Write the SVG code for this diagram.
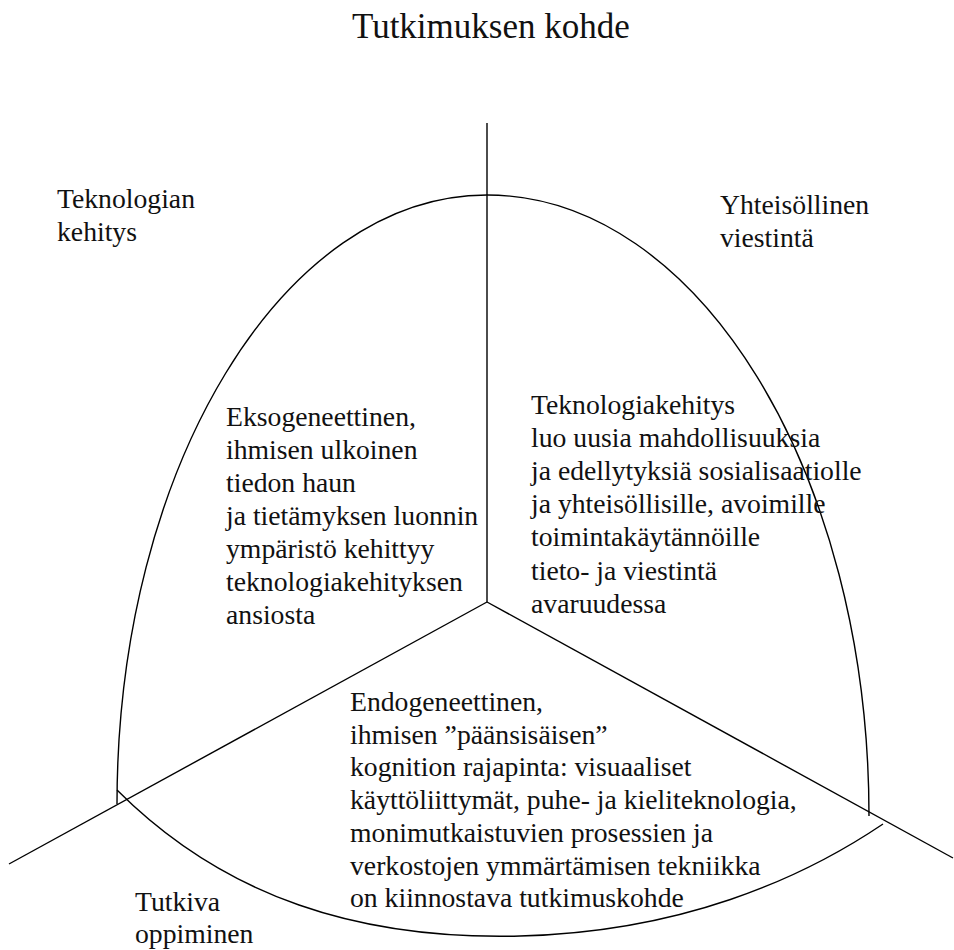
<svg xmlns="http://www.w3.org/2000/svg" width="954" height="950" viewBox="0 0 954 950">
  <style>
    .ln { fill: none; stroke: #000; stroke-width: 1.4; }
    .tx { font-family: "Liberation Serif", "Times New Roman", serif; font-size: 27.7px; fill: #111; }
    .title { font-family: "Liberation Serif", "Times New Roman", serif; font-size: 35px; fill: #111; }
  </style>
  <rect width="954" height="950" fill="#fff"/>

  <g id="title">
    <text class="title" x="352" y="37.5">Tutkimuksen kohde</text>
  </g>

  <!-- outline: arch and bottom bowl -->
  <g id="connectors">
    <path class="ln" d="M117,804 C117,468 283,195 487,195 C698,195 869,473 869,816"/>
    <path class="ln" d="M117,790 C225,898 360,940 520,936 C680,932 800,880 883,824"/>
    <line class="ln" x1="487" y1="123" x2="487" y2="602"/>
    <line class="ln" x1="487" y1="602" x2="9" y2="864"/>
    <line class="ln" x1="487" y1="602" x2="953" y2="858"/>
  </g>

  <g id="label-teknologian">
    <text class="tx" x="57" y="208">Teknologian</text>
    <text class="tx" x="57" y="241">kehitys</text>
  </g>

  <g id="label-yhteisollinen">
    <text class="tx" x="720" y="214">Yhteisöllinen</text>
    <text class="tx" x="720" y="247">viestintä</text>
  </g>

  <g id="label-tutkiva">
    <text class="tx" x="135" y="911">Tutkiva</text>
    <text class="tx" x="135" y="943">oppiminen</text>
  </g>

  <g id="sector-left">
    <text class="tx" x="226" y="426">Eksogeneettinen,</text>
    <text class="tx" x="226" y="459">ihmisen ulkoinen</text>
    <text class="tx" x="226" y="492">tiedon haun</text>
    <text class="tx" x="226" y="525">ja tietämyksen luonnin</text>
    <text class="tx" x="226" y="558">ympäristö kehittyy</text>
    <text class="tx" x="226" y="591">teknologiakehityksen</text>
    <text class="tx" x="226" y="624">ansiosta</text>
  </g>

  <g id="sector-right">
    <text class="tx" x="531" y="413.5">Teknologiakehitys</text>
    <text class="tx" x="531" y="446.7">luo uusia mahdollisuuksia</text>
    <text class="tx" x="531" y="479.9">ja edellytyksiä sosialisaatiolle</text>
    <text class="tx" x="531" y="513.1">ja yhteisöllisille, avoimille</text>
    <text class="tx" x="531" y="546.3">toimintakäytännöille</text>
    <text class="tx" x="531" y="579.5">tieto- ja viestintä</text>
    <text class="tx" x="531" y="612.7">avaruudessa</text>
  </g>

  <g id="sector-bottom">
    <text class="tx" x="350" y="711">Endogeneettinen,</text>
    <text class="tx" x="350" y="743.7">ihmisen ”päänsisäisen”</text>
    <text class="tx" x="350" y="776.4">kognition rajapinta: visuaaliset</text>
    <text class="tx" x="350" y="809.1">käyttöliittymät, puhe- ja kieliteknologia,</text>
    <text class="tx" x="350" y="841.8">monimutkaistuvien prosessien ja</text>
    <text class="tx" x="350" y="874.5">verkostojen ymmärtämisen tekniikka</text>
    <text class="tx" x="350" y="907">on kiinnostava tutkimuskohde</text>
  </g>
</svg>
